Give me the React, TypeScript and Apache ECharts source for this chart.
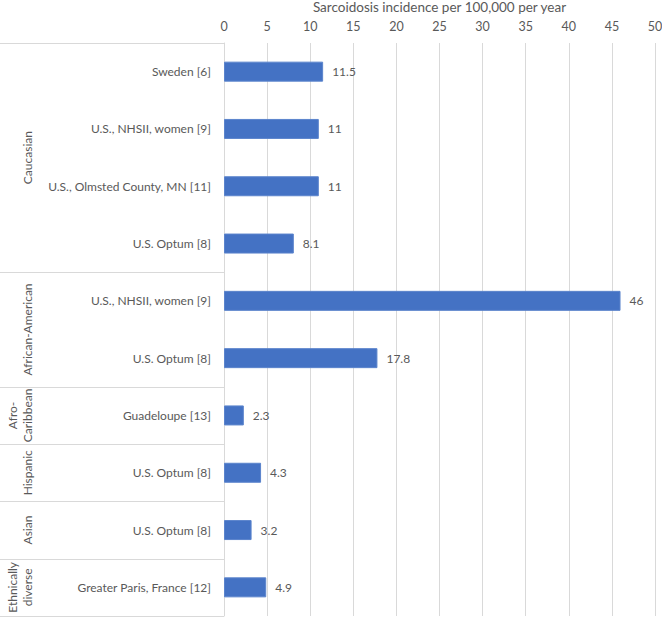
import React, { useEffect, useRef } from "react";
import * as echarts from "echarts";

const categories = [
  "Sweden [6]",
  "U.S., NHSII, women [9]",
  "U.S., Olmsted County, MN [11]",
  "U.S. Optum [8]",
  "U.S., NHSII, women [9]",
  "U.S. Optum [8]",
  "Guadeloupe [13]",
  "U.S. Optum [8]",
  "U.S. Optum [8]",
  "Greater Paris, France [12]",
];
const values = [11.5, 11, 11, 8.1, 46, 17.8, 2.3, 4.3, 3.2, 4.9];
const groups = [
  { label: "Caucasian", start: 0, end: 3 },
  { label: "African-American", start: 4, end: 5 },
  { label: "Afro-\nCaribbean", start: 6, end: 6 },
  { label: "Hispanic", start: 7, end: 7 },
  { label: "Asian", start: 8, end: 8 },
  { label: "Ethnically\ndiverse", start: 9, end: 9 },
];
const xTicks = { min: 0, max: 50, interval: 5 };
const axisTitle = "Sarcoidosis incidence per 100,000 per year";

const FONT = "Lato";
const TEXT = "#595959";
const GRID = "#D9D9D9";

export default function App() {
  const ref = useRef<HTMLDivElement>(null);
  useEffect(() => {
    const chart = echarts.init(ref.current!, null, { renderer: "svg" });
    chart.setOption({
      animation: false,
      textStyle: { fontFamily: FONT },
      grid: { left: 224, right: 7, top: 43, bottom: 6, containLabel: false, outerBoundsMode: "none" },
      xAxis: {
        type: "value",
        position: "top",
        min: xTicks.min,
        max: xTicks.max,
        interval: xTicks.interval,
        name: axisTitle,
        nameLocation: "middle",
        nameGap: 29,
        nameTextStyle: { color: TEXT, fontSize: 13.5, fontFamily: FONT },
        axisLine: { show: false },
        axisTick: { show: false },
        axisLabel: { color: TEXT, fontSize: 12.5, margin: 10, fontFamily: FONT },
        splitLine: { show: true, lineStyle: { color: GRID, width: 1 } },
      },
      yAxis: {
        type: "category",
        inverse: true,
        data: categories.map((_, i) => String(i)),
        axisLine: { show: true, lineStyle: { color: GRID, width: 1 } },
        axisTick: { show: false },
        axisLabel: {
          color: TEXT,
          fontSize: 12,
          margin: 13,
          fontFamily: FONT,
          formatter: (v: string) => categories[Number(v)],
        },
        splitLine: { show: false },
      },
      series: [
        {
          type: "bar",
          data: values,
          barWidth: 20,
          itemStyle: { color: "#4472C4", borderColor: "#5B84CC", borderWidth: 1 },
          label: {
            show: true,
            position: "right",
            distance: 9,
            color: TEXT,
            fontSize: 12,
            fontFamily: FONT,
          },
        },
      ],
    });

    const yOf = (i: number) => chart.convertToPixel({ yAxisIndex: 0 }, String(i)) as number;
    const step = yOf(1) - yOf(0);
    const leftEdge = 224;
    const elements: any[] = [];
    const boundaries = new Set<number>();
    groups.forEach((g) => {
      boundaries.add(g.start);
      boundaries.add(g.end + 1);
    });
    boundaries.forEach((b) => {
      const y = Math.round(yOf(0) + (b - 0.5) * step) + 0.5;
      elements.push({
        type: "line",
        shape: { x1: 0, y1: y, x2: leftEdge, y2: y },
        style: { stroke: GRID, lineWidth: 1 },
      });
    });
    groups.forEach((g) => {
      const yc = (yOf(g.start) + yOf(g.end)) / 2;
      elements.push({
        type: "text",
        x: 35,
        y: yc,
        rotation: Math.PI / 2,
        style: {
          text: g.label,
          fill: TEXT,
          font: `12px ${FONT}`,
          textAlign: "center",
          textVerticalAlign: "bottom",
          lineHeight: 15,
        },
      });
    });
    chart.setOption({ graphic: { elements } });
    return () => chart.dispose();
  }, []);
  return (
    <div
      ref={ref}
      style={{ position: "absolute", left: 0, top: 0, width: 662, height: 622, background: "#fff" }}
    />
  );
}
